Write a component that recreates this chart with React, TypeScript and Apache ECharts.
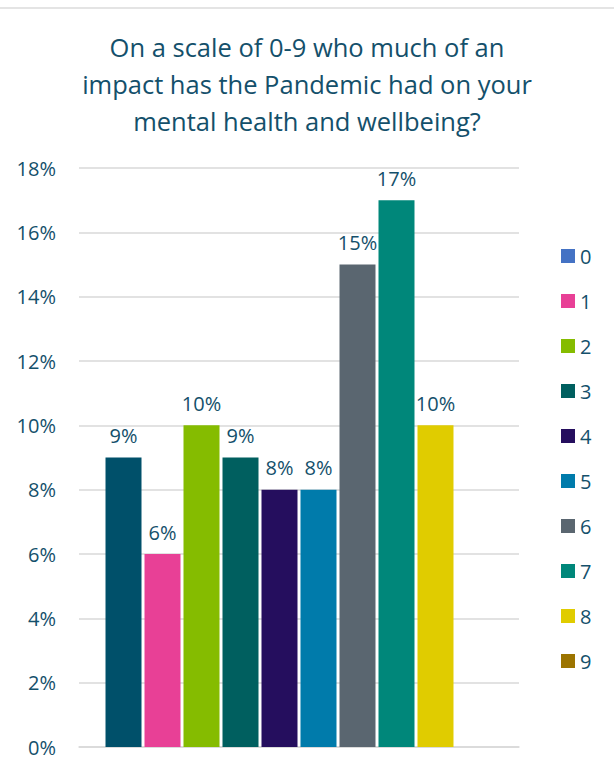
import React, { useEffect, useRef } from "react";
import * as echarts from "echarts";

const titleText = "On a scale of 0-9 who much of an\nimpact has the Pandemic had on your\nmental health and wellbeing?";
const seriesNames = ["0", "1", "2", "3", "4", "5", "6", "7", "8", "9"];
const values: (number | null)[] = [9, 6, 10, 9, 8, 8, 15, 17, 10, null];
const barColors = ["#00506a", "#e84096", "#85bc00", "#005f5f", "#250e5e", "#007bab", "#5a6670", "#00877a", "#e0cc00", "#9c7400"];
const legendColors = ["#4472c4", "#e84096", "#85bc00", "#005f5f", "#250e5e", "#007bab", "#5a6670", "#00877a", "#e0cc00", "#9c7400"];
const yTicks = { min: 0, max: 18, interval: 2 };

const TEXT = "#14506b";
const FONT = "Open Sans";

export default function App() {
  const ref = useRef<HTMLDivElement>(null);
  useEffect(() => {
    if (!ref.current) return;
    const chart = echarts.init(ref.current, null, { renderer: "svg" });
    chart.setOption({
      animation: false,
      backgroundColor: "#ffffff",
      graphic: [
        {
          type: "line",
          shape: { x1: 0, y1: 8, x2: 614, y2: 8 },
          style: { stroke: "#e4e4e4", lineWidth: 2 },
        },
      ],
      title: {
        text: titleText,
        left: "center",
        top: 28,
        padding: 0,
        textStyle: {
          color: TEXT,
          fontFamily: FONT,
          fontSize: 25.5,
          fontWeight: "normal",
          lineHeight: 37,
        },
      },
      legend: {
        orient: "vertical",
        left: 561,
        top: 246,
        padding: 0,
        itemWidth: 14,
        itemHeight: 14,
        itemGap: 25,
        icon: "rect",
        textStyle: { color: TEXT, fontFamily: FONT, fontSize: 20, lineHeight: 20 },
        data: seriesNames.map((n, i) => ({ name: n, itemStyle: { color: legendColors[i] } })),
      },
      grid: { left: 79, right: 95, top: 168, bottom: 28, containLabel: false },
      xAxis: {
        type: "category",
        data: [""],
        axisTick: { show: false },
        axisLabel: { show: false },
        axisLine: { show: true, lineStyle: { color: "#d9d9d9", width: 1.5 } },
      },
      yAxis: {
        type: "value",
        min: yTicks.min,
        max: yTicks.max,
        interval: yTicks.interval,
        axisLine: { show: false },
        axisTick: { show: false },
        axisLabel: {
          formatter: "{value}%",
          color: TEXT,
          fontFamily: FONT,
          fontSize: 20,
          margin: 23,
        },
        splitLine: { lineStyle: { color: "#d9d9d9", width: 1.5 } },
      },
      series: seriesNames.map((n, i) => ({
        name: n,
        type: "bar",
        data: [values[i]],
        barWidth: 36,
        barGap: "8.33%",
        itemStyle: { color: barColors[i] },
        label: {
          show: true,
          position: "top",
          distance: 12,
          formatter: "{c}%",
          color: TEXT,
          fontFamily: FONT,
          fontSize: 20,
        },
      })),
    });
    return () => chart.dispose();
  }, []);
  return (
    <div
      ref={ref}
      style={{ position: "fixed", left: 0, top: 0, width: 614, height: 775 }}
    />
  );
}
